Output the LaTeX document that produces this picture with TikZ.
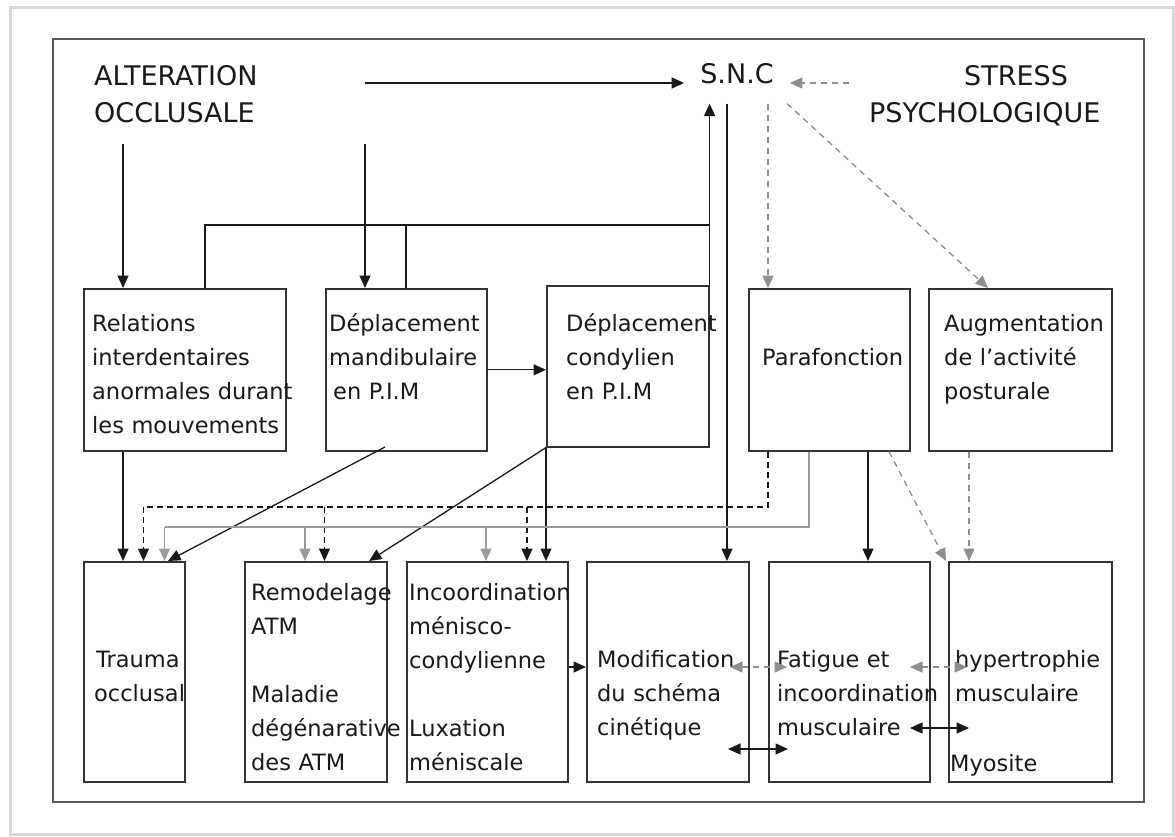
\documentclass[tikz,border=0pt]{standalone}
\usepackage{fontspec}
\setmainfont{DejaVu Sans}
\usetikzlibrary{arrows.meta}
\definecolor{lg}{HTML}{9A9A9A}
\definecolor{dg}{HTML}{8E8E8E}
\begin{document}
\begin{tikzpicture}[x=1pt,y=-1pt,
  box/.style={draw=black!80,line width=1.6pt,inner sep=0pt,anchor=north west},
  txt/.style={font=\fontsize{22.5}{34}\selectfont,text width=260pt,align=left,inner sep=0pt,anchor=base west,text=black!90},
  big/.style={font=\fontsize{27}{37}\selectfont,text width=300pt,align=left,inner sep=0pt,anchor=base west,text=black!90},
  tip/.style={-{Triangle[length=12.5pt,width=11pt]}},
  conn/.style={line width=1.3pt,draw=black!90},
  arr/.style={conn,tip},
  darr/.style={conn,{Triangle[length=12.5pt,width=11pt]}-{Triangle[length=12.5pt,width=11pt]}},
  gconn/.style={line width=1.3pt,draw=lg},
  garr/.style={gconn,tip},
  dconn/.style={conn,dash pattern=on 6pt off 4pt},
  darrow/.style={dconn,tip},
  gdconn/.style={line width=1.3pt,draw=dg,dash pattern=on 6pt off 5pt},
  gdarr/.style={gdconn,tip},
  gddarr/.style={gdconn,{Triangle[length=12.5pt,width=11pt]}-{Triangle[length=12.5pt,width=11pt]}},
]
\useasboundingbox (0,0) rectangle (1175,836);
\fill[white] (0,0) rectangle (1175,836);
\draw[black!15,line width=3pt] (10,7) rectangle (1173,834);
\draw[black!65,line width=1.5pt] (53,39) rectangle (1144,802);

% top labels
\node[big] (alt) at (94,85) {ALTERATION\\OCCLUSALE};
\node[font=\fontsize{27}{37}\selectfont,text=black!90,anchor=base,inner xsep=16pt,inner ysep=20pt] (snc) at (737,83) {S.N.C};
\node[big] (stress) at (869,85) {\hspace*{95pt}STRESS\\PSYCHOLOGIQUE};

% middle boxes
\node[box,minimum width=202pt,minimum height=162pt] (b1) at (83,288) {};
\node[box,minimum width=161pt,minimum height=162pt] (b2) at (325,288) {};
\node[box,minimum width=162pt,minimum height=161pt] (b3) at (546,285) {};
\node[box,minimum width=161pt,minimum height=162pt] (b4) at (748,288) {};
\node[box,minimum width=183pt,minimum height=162pt] (b5) at (928,288) {};

% bottom boxes
\node[box,minimum width=101pt,minimum height=220pt] (c1) at (83,561) {};
\node[box,minimum width=142pt,minimum height=220pt] (c2) at (244,561) {};
\node[box,minimum width=161pt,minimum height=220pt] (c3) at (406,561) {};
\node[box,minimum width=162pt,minimum height=220pt] (c4) at (586,561) {};
\node[box,minimum width=161pt,minimum height=220pt] (c5) at (768,561) {};
\node[box,minimum width=163pt,minimum height=220pt] (c6) at (948,561) {};

% texts
\node[txt] (t1) at (92,331) {Relations\\interdentaires\\anormales durant\\les mouvements};
\node[txt] (t2) at (329,331) {Déplacement\\mandibulaire\\\hspace*{4pt}en P.I.M};
\node[txt] (t3) at (566,331) {Déplacement\\condylien\\en P.I.M};
\node[txt] (t4) at (762,365) {Parafonction};
\node[txt] (t5) at (944,331) {Augmentation\\de l’activité\\posturale};
\node[txt] (u1) at (94,667) {\hspace*{2pt}Trauma\\occlusal};
\node[txt] (u2) at (251,600) {Remodelage\\ATM\\[34pt]Maladie\\dégénarative\\des ATM};
\node[txt] (u3) at (409,600) {Incoordination\\ménisco-\\condylienne\\[34pt]Luxation\\méniscale};
\node[txt] (u4) at (597,667) {Modification\\du schéma\\cinétique};
\node[txt] (u5) at (777,667) {Fatigue et\\incoordination\\musculaire};
\node[txt] (u6) at (955,667) {hypertrophie\\musculaire};
\node[txt] (u7) at (950,771) {Myosite};

% top connectors
\coordinate (a0) at (365,83);
\draw[arr] (a0) -- (snc.west |- a0);
\coordinate (s0) at (849,83);
\draw[gdarr] (s0) -- (snc.east |- s0);
\coordinate (a1) at (123,144);
\coordinate (a2) at (365,144);
\draw[arr] (a1) -- (a1 |- b1.north);
\draw[arr] (a2) -- (a2 |- b2.north);

% feedback to SNC
\coordinate (f1) at (205,225);
\coordinate (f2) at (406,225);
\draw[conn] (f1 |- b1.north) -- (f1) -- (f1 -| b3.north east);
\draw[conn] (f2 |- b2.north) -- (f2);
\draw[arr] (b3.north east) -- (b3.north east |- snc.south);

% from SNC downward
\coordinate (m0) at (727,0);
\draw[arr] (m0 |- snc.south) -- (m0 |- c4.north);
\coordinate (p0) at (768,0);
\draw[gdarr] (p0 |- snc.south) -- (p0 |- b4.north);
\coordinate (q0) at (787,0);
\coordinate (q1) at (988,0);
\draw[gdarr] (q0 |- snc.south) -- (q1 |- b5.north);

% middle row links
\draw[arr] (b2.east) -- (b2.east -| b3.west);
\coordinate (g1) at (123,0);
\draw[arr] (g1 |- b1.south) -- (g1 |- c1.north);
\coordinate (d1) at (385,447);
\coordinate (d2) at (168,0);
\draw[arr] (d1) -- (d2 |- c1.north);
\coordinate (d3) at (369,0);
\draw[arr] (b3.south west) -- (d3 |- c2.north);
\draw[arr] (b3.south west) -- (b3.south west |- c3.north);

% black dashed from Parafonction
\coordinate (k) at (768,507);
\coordinate (kk1) at (143.5,507);
\coordinate (kk2) at (324.5,507);
\coordinate (kk3) at (527,507);
\draw[dconn] (k |- b4.south) -- (k) -- (kk1);
\draw[darrow] (kk1) -- (kk1 |- c1.north);
\draw[darrow] (kk2) -- (kk2 |- c2.north);
\draw[darrow] (kk3) -- (kk3 |- c3.north);

% gray solid from Parafonction
\coordinate (g) at (809,527);
\coordinate (gg1) at (164.5,527);
\coordinate (gg2) at (305,527);
\coordinate (gg3) at (486,527);
\draw[gconn] (g |- b4.south) -- (g) -- (gg1);
\draw[garr] (gg1) -- (gg1 |- c1.north);
\draw[garr] (gg2) -- (gg2 |- c2.north);
\draw[garr] (gg3) -- (gg3 |- c3.north);

% Parafonction / Augmentation to bottom right
\coordinate (n0) at (868,0);
\draw[arr] (n0 |- b4.south) -- (n0 |- c5.north);
\coordinate (r0) at (889,0);
\coordinate (r1) at (946,0);
\draw[gdarr] (r0 |- b4.south) -- (r1 |- c6.north);
\coordinate (v0) at (969,0);
\draw[gdarr] (v0 |- b5.south) -- (v0 |- c6.north);

% bottom row links
\coordinate (h) at (0,667);
\draw[arr] (c3.east |- h) -- (c4.west |- h);
\coordinate (e1) at (730,667);
\coordinate (e2) at (787,667);
\draw[gddarr] (e1) -- (e2);
\coordinate (e3) at (910,667);
\coordinate (e4) at (967,667);
\draw[gddarr] (e3) -- (e4);
\coordinate (w1) at (728,749);
\coordinate (w2) at (788,749);
\draw[darr] (w1) -- (w2);
\coordinate (w3) at (910,728);
\coordinate (w4) at (969,728);
\draw[darr] (w3) -- (w4);
\end{tikzpicture}
\end{document}
